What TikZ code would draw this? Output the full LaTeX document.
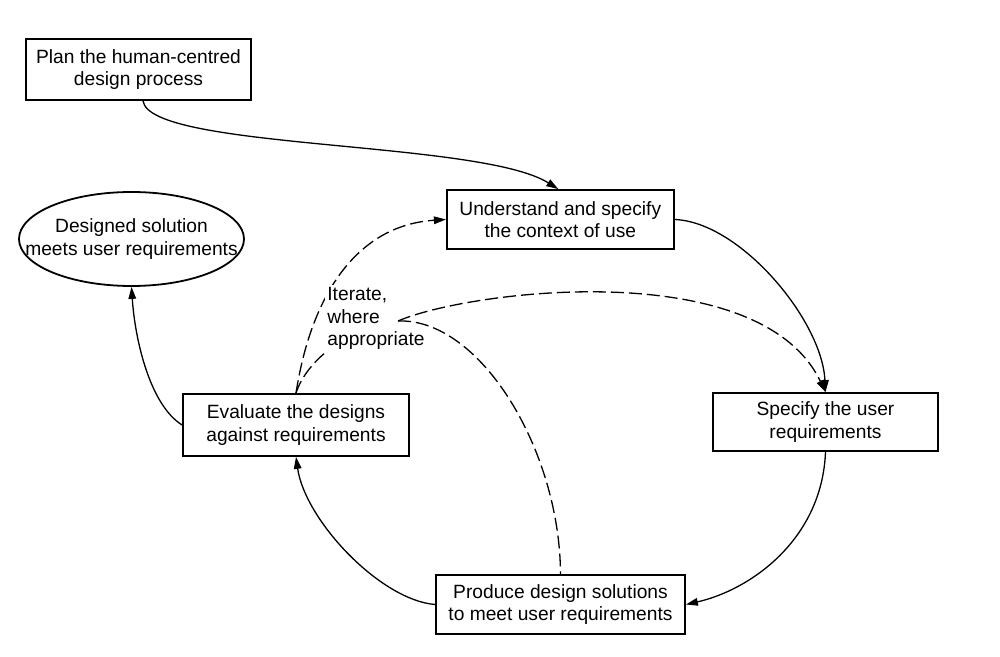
\documentclass[tikz,border=0pt]{standalone}
\usepackage{fontspec}
\setmainfont{Liberation Sans}
\usetikzlibrary{arrows.meta,shapes.geometric}
\begin{document}
\begin{tikzpicture}[x=0.5pt,y=-0.5pt,
  txt/.style={font=\fontsize{9.6pt}{11.3pt}\selectfont},
  box/.style={txt,draw,line width=0.9pt,rectangle,inner sep=0pt,align=center},
  tip/.style={-{Triangle[length=6pt,width=3.8pt]}},
  conn/.style={line width=0.65pt,tip},
  iter/.style={line width=0.65pt,dash pattern=on 6.5pt off 2.5pt},
]
\useasboundingbox[fill=white] (0,0) rectangle (1000,657);

\node[box,minimum width=112.5pt,minimum height=30.5pt] (plan) at (138.5,69.5) {Plan the human-centred\\design process};
\node[ellipse,draw,line width=0.9pt,minimum width=112.5pt,minimum height=47pt,inner sep=0pt] (done) at (131.5,239) {};
\node[txt,align=center,inner sep=0pt] (donetext) at (done.center) {Designed solution\\meets user requirements};
\node[box,minimum width=113.5pt,minimum height=29.5pt] (und) at (560.3,219.5) {Understand and specify\\the context of use};
\node[box,minimum width=112.5pt,minimum height=29pt] (spec) at (825.5,422) {Specify the user\\requirements};
\node[box,minimum width=113pt,minimum height=31pt] (eval) at (296,425) {Evaluate the designs\\against requirements};
\node[box,minimum width=124.5pt,minimum height=29.5pt] (prod) at (560.5,604.5) {Produce design solutions\\to meet user requirements};

% solid connectors
\draw[conn] ([xshift=2.25pt]plan.south) .. controls (150,150) and (480,140) .. ([xshift=-1pt]und.north);
\draw[conn] (und.east) .. controls (740,222) and (822,320) .. (spec.north);
\draw[conn] (spec.south) .. controls (822,540) and (750,590) .. (prod.east);
\draw[conn] (prod.west) .. controls (380,600) and (305,520) .. (eval.south);
\draw[conn] (eval.west) .. controls (150,405) and (135,340) .. (done.south);

% iteration (dashed)
\draw[iter,tip] (eval.north) .. controls (312,290) and (360,225) .. (und.west);
\coordinate (it) at (398,321);
\draw[iter] (eval.north) .. controls (305,365) and (340,330) .. (it);
\node[txt,align=left,inner sep=1pt,fill=white,anchor=north west] (lbl) at (325,285) {Iterate,\\where\\appropriate};
\draw[iter,tip] (it) .. controls (470,290) and (760,255) .. (spec.north);
\draw[iter] (it) .. controls (480,318) and (560,450) .. (prod.north);
\end{tikzpicture}
\end{document}
